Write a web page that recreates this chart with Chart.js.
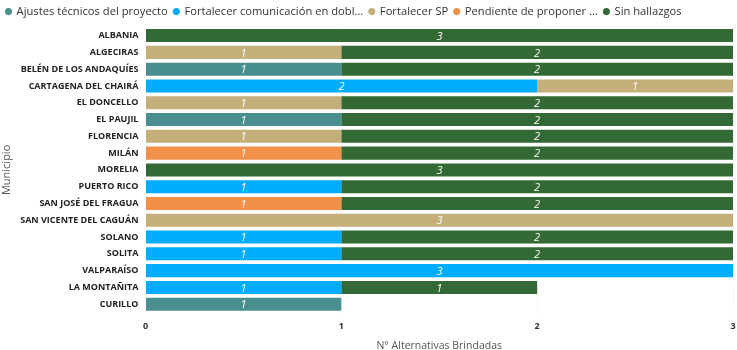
<!DOCTYPE html>
<html>
<head>
<meta charset="utf-8">
<script src="https://cdn.jsdelivr.net/npm/chart.js@4"></script>
<style>
  body { margin: 0; background: #fff; }
  #wrap { width: 737px; height: 350px; }
</style>
</head>
<body>
<div id="wrap"><canvas id="chartMunicipios" width="737" height="350"></canvas></div>
<script>
// Datos
const municipios = ["ALBANIA", "ALGECIRAS", "BELÉN DE LOS ANDAQUÍES", "CARTAGENA DEL CHAIRÁ", "EL DONCELLO",
  "EL PAUJIL", "FLORENCIA", "MILÁN", "MORELIA", "PUERTO RICO", "SAN JOSÉ DEL FRAGUA",
  "SAN VICENTE DEL CAGUÁN", "SOLANO", "SOLITA", "VALPARAÍSO", "LA MONTAÑITA", "CURILLO"];

const ajustesTecnicos = [null, null, 1, null, null, 1, null, null, null, null, null, null, null, null, null, null, 1];
const fortalecerComunicacion = [null, null, null, 2, null, null, null, null, null, 1, null, null, 1, 1, 3, 1, null];
const fortalecerSP = [null, 1, null, 1, 1, null, 1, null, null, null, null, 3, null, null, null, null, null];
const pendienteProponer = [null, null, null, null, null, null, null, 1, null, null, 1, null, null, null, null, null, null];
const sinHallazgos = [3, 2, 2, null, 2, 2, 2, 2, 3, 2, 2, null, 2, 2, null, 1, null];

const ticksX = [0, 1, 2, 3];

const fuente = "'Open Sans', 'Noto Sans', sans-serif";

// Etiquetas de valor dentro de las barras
const etiquetasValor = {
  id: 'etiquetasValor',
  afterDatasetsDraw(chart) {
    const ctx = chart.ctx;
    ctx.save();
    ctx.font = "italic 11px " + fuente;
    ctx.fillStyle = "#ffffff";
    ctx.textAlign = "center";
    ctx.textBaseline = "middle";
    chart.data.datasets.forEach((ds, i) => {
      const meta = chart.getDatasetMeta(i);
      meta.data.forEach((bar, j) => {
        const v = ds.data[j];
        if (!v) return;
        const p = bar.getProps(['x', 'y', 'base'], true);
        ctx.fillText(String(v), (p.x + p.base) / 2, p.y + 1);
      });
    });
    ctx.restore();
  }
};

const ctx = document.getElementById("chartMunicipios").getContext("2d");

new Chart(ctx, {
  type: "bar",
  data: {
    labels: municipios,
    datasets: [
      { label: "Ajustes técnicos del proyecto", data: ajustesTecnicos, backgroundColor: "#4A8F90" },
      { label: "Fortalecer comunicación en dobl...", data: fortalecerComunicacion, backgroundColor: "#00ACFC" },
      { label: "Fortalecer SP", data: fortalecerSP, backgroundColor: "#C4AF7B" },
      { label: "Pendiente de proponer ...", data: pendienteProponer, backgroundColor: "#F28F48" },
      { label: "Sin hallazgos", data: sinHallazgos, backgroundColor: "#336935" }
    ]
  },
  options: {
    indexAxis: "y",
    responsive: false,
    animation: false,
    layout: { padding: { left: 0, right: 4, top: 0, bottom: -2 } },
    datasets: { bar: { barPercentage: 0.8, categoryPercentage: 0.97 } },
    plugins: {
      legend: {
        position: "top",
        align: "start",
        labels: {
          usePointStyle: true,
          pointStyle: "circle",
          boxWidth: 5,
          boxHeight: 5,
          padding: 6,
          color: "#333",
          font: { family: fuente, size: 11.2 }
        }
      },
      tooltip: { enabled: false }
    },
    scales: {
      x: {
        stacked: true,
        min: 0,
        max: 3,
        afterBuildTicks: axis => { axis.ticks = ticksX.map(v => ({ value: v })); },
        afterFit: axis => { axis.paddingRight = 0; },
        grid: { color: ctx => ctx.tick && ctx.tick.value === 0 ? "rgba(0,0,0,0)" : "#e8e8e8", drawTicks: false, lineWidth: 1 },
        border: { display: false, dash: [1, 2] },
        ticks: { color: "#333", padding: 8, font: { family: fuente, size: 9, weight: "bold" } },
        title: { display: true, text: "N° Alternativas Brindadas", color: "#555", padding: { top: 0, bottom: 0 }, font: { family: fuente, size: 10.5 } }
      },
      y: {
        stacked: true,
        grid: { display: false, drawTicks: false },
        border: { display: false },
        ticks: { color: "#222", padding: 7, autoSkip: false, font: { family: fuente, size: 9, weight: "bold" } },
        title: { display: true, text: "Municipio", color: "#555", padding: 0, font: { family: fuente, size: 11 } }
      }
    }
  },
  plugins: [etiquetasValor]
});
</script>
</body>
</html>
